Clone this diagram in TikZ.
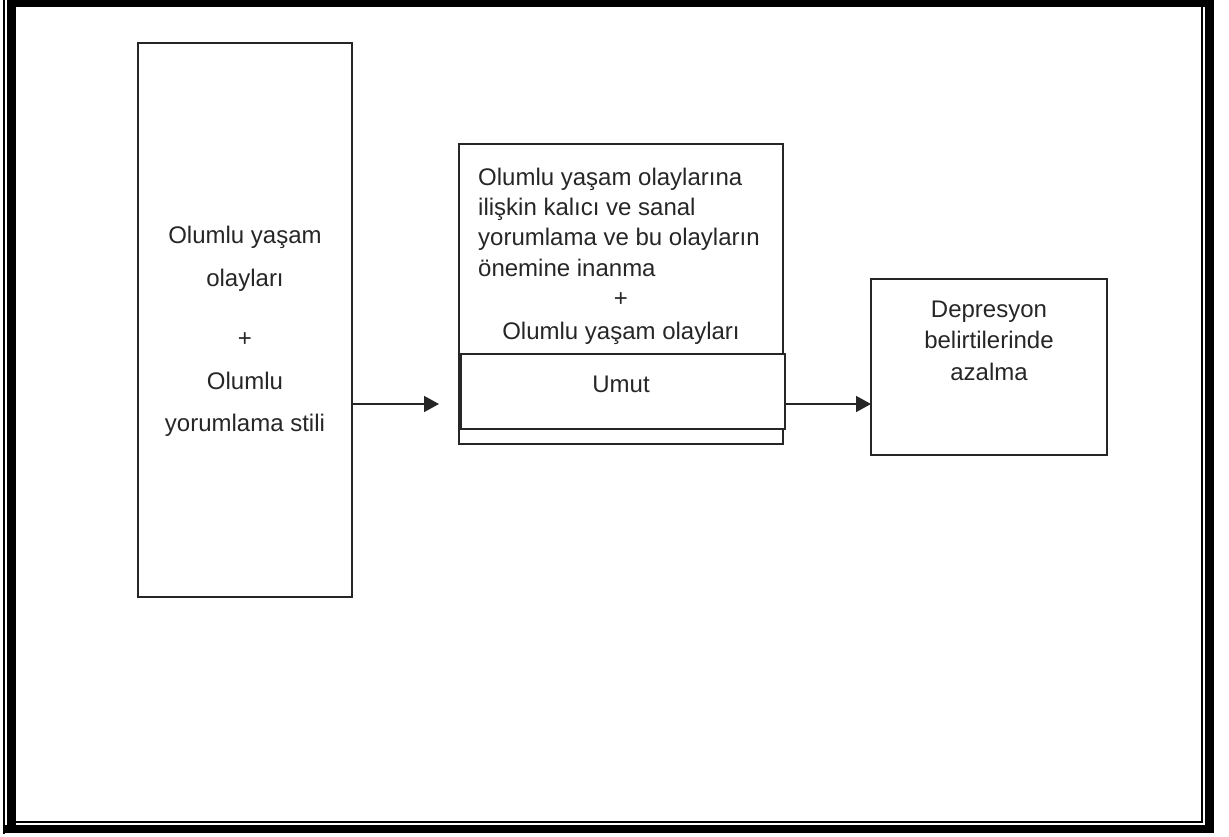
\documentclass[tikz,border=0pt]{standalone}
\usepackage{fontspec}
\setmainfont{Liberation Sans}
\usetikzlibrary{arrows.meta}
\begin{document}
\begin{tikzpicture}[x=1pt,y=-1pt,
  box/.style={draw=black!85,line width=1.5pt,inner sep=0pt,outer sep=0pt},
  txt/.style={inner sep=0pt,text=black!85,font=\fontsize{24}{31}\selectfont},
  arr/.style={draw=black!85,line width=1.6pt,-{Triangle[length=15pt,width=16pt]}},
  frame/.style={fill=black}]
\useasboundingbox (0,0) rectangle (1229,836);
% page border
\fill[frame] (6.5,0) rectangle (16,833);
\fill[frame] (6.5,0) rectangle (1214,7);
\fill[frame] (1205,0) rectangle (1214,833);
\fill[frame] (3,825) rectangle (1214,833);
\fill[frame] (3,0) rectangle (5,834);
\fill[frame] (1201,7) rectangle (1203,823);
\fill[frame] (16,821) rectangle (1203,823);
% boxes
\node[box,minimum width=214pt,minimum height=554pt] (L) at (245,320) {};
\node[box,minimum width=324pt,minimum height=300pt] (M) at (621,294) {};
\node[box,fill=white,minimum width=324pt,minimum height=75pt] (U) at (623,391.5) {};
\node[box,minimum width=236pt,minimum height=176pt] (R) at (989,367) {};
% left texts
\node[txt,anchor=base] (l1) at (L.center |- 0,243) {Olumlu yaşam};
\node[txt,anchor=base] (l2) at (L.center |- 0,286) {olayları};
\node[txt,anchor=base] (l3) at (L.center |- 0,346) {+};
\node[txt,anchor=base] (l4) at (L.center |- 0,389) {Olumlu};
\node[txt,anchor=base] (l5) at (L.center |- 0,431) {yorumlama stili};
% middle texts
\node[txt,anchor=base west] (m1) at (478,185) {Olumlu yaşam olaylarına};
\node[txt,anchor=base west] (m2) at (478,215) {ilişkin kalıcı ve sanal};
\node[txt,anchor=base west] (m3) at (478,245) {yorumlama ve bu olayların};
\node[txt,anchor=base west] (m4) at (478,276) {önemine inanma};
\node[txt,anchor=base] (m5) at (M.center |- 0,306) {+};
\node[txt,anchor=base] (m6) at (M.center |- 0,339) {Olumlu yaşam olayları};
\node[txt,anchor=base] (u1) at (M.center |- 0,392) {Umut};
% right texts
\node[txt,anchor=base] (r1) at (R.center |- 0,317) {Depresyon};
\node[txt,anchor=base] (r2) at (R.center |- 0,348) {belirtilerinde};
\node[txt,anchor=base] (r3) at (R.center |- 0,380) {azalma};
% arrows
\coordinate (a1e) at (439,404);
\coordinate (a2) at (0,404);
\draw[arr] (L.east |- a1e) -- (a1e);
\draw[arr] (U.east |- a2) -- (R.west |- a2);
\end{tikzpicture}
\end{document}
